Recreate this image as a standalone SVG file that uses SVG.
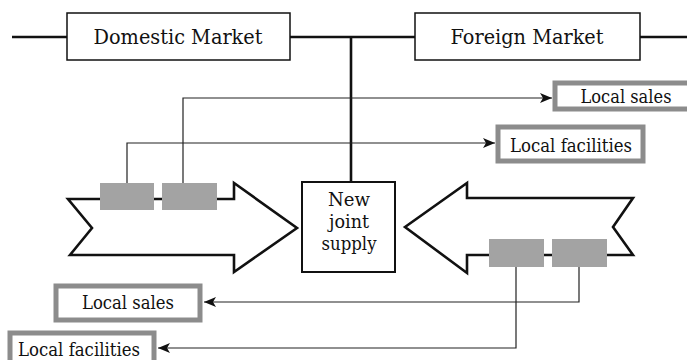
<svg xmlns="http://www.w3.org/2000/svg" width="687" height="360" viewBox="0 0 687 360">
<style>
text{font-family:"DejaVu Serif","Liberation Serif",serif;fill:#111;text-anchor:middle}
.mk{font-size:21px}
.lb{font-size:18px}
.nj{font-size:18px}
.box{fill:#fff;stroke:#111;stroke-width:1.5}
.lbox{fill:#fff;stroke:#8c8c8c;stroke-width:5}
.lin{fill:none;stroke:#111;stroke-width:2.6}
.thin{fill:none;stroke:#222;stroke-width:1.2}
.big{fill:#fff;stroke:#111;stroke-width:2.6;stroke-linejoin:miter}
.gray{fill:#a3a3a3}
</style>
<defs>
<marker id="ah" viewBox="0 0 12 10" refX="12" refY="5" markerWidth="12" markerHeight="10" markerUnits="userSpaceOnUse" orient="auto">
<path d="M0,0 L12,5 L0,10 L3,5 Z" fill="#111"/>
</marker>
</defs>
<g id="connectors">
<path class="lin" d="M12,37 H67 M290,37 H415 M640,37 H687 M351,37 V182"/>
<path class="thin" d="M183,183 V98 H552" marker-end="url(#ah)"/>
<path class="thin" d="M127,183 V143 H495" marker-end="url(#ah)"/>
<path class="thin" d="M579,267 V302 H204" marker-end="url(#ah)"/>
<path class="thin" d="M516,267 V348 H158" marker-end="url(#ah)"/>
</g>
<g id="domestic-market">
<rect class="box" x="67" y="13" width="223" height="47"/>
<text class="mk" x="178" y="44" textLength="169" lengthAdjust="spacingAndGlyphs">Domestic Market</text>
</g>
<g id="foreign-market">
<rect class="box" x="415" y="13" width="225" height="47"/>
<text class="mk" x="527" y="44" textLength="153" lengthAdjust="spacingAndGlyphs">Foreign Market</text>
</g>
<g id="left-arrow">
<polygon class="big" points="68,199 234,199 234,183 297,228 234,272 234,255 70,255 92,228"/>
<rect class="gray" x="100" y="183" width="54" height="27"/>
<rect class="gray" x="162" y="183" width="55" height="27"/>
</g>
<g id="right-arrow">
<polygon class="big" points="405,227 467,183 467,198 633,198 613,227 633,255 467,255 467,273"/>
<rect class="gray" x="489" y="239" width="55" height="28"/>
<rect class="gray" x="552" y="239" width="55" height="28"/>
</g>
<g id="new-joint-supply">
<rect x="302" y="182" width="93" height="90" fill="#fff" stroke="#111" stroke-width="2"/>
<text class="nj" x="349" y="206" textLength="42" lengthAdjust="spacingAndGlyphs">New</text>
<text class="nj" x="349" y="228" textLength="40" lengthAdjust="spacingAndGlyphs">joint</text>
<text class="nj" x="349" y="250" textLength="55" lengthAdjust="spacingAndGlyphs">supply</text>
</g>
<g id="local-sales-right">
<rect class="lbox" x="555" y="83" width="135" height="26"/>
<text class="lb" x="626" y="103" textLength="91" lengthAdjust="spacingAndGlyphs">Local sales</text>
</g>
<g id="local-facilities-right">
<rect class="lbox" x="498" y="127" width="145" height="34"/>
<text class="lb" x="571" y="152" textLength="122" lengthAdjust="spacingAndGlyphs">Local facilities</text>
</g>
<g id="local-sales-left">
<rect class="lbox" x="56" y="286" width="144" height="34"/>
<text class="lb" x="128" y="309" textLength="92" lengthAdjust="spacingAndGlyphs">Local sales</text>
</g>
<g id="local-facilities-left">
<rect class="lbox" x="10" y="333" width="144" height="32"/>
<text class="lb" x="79" y="356" textLength="122" lengthAdjust="spacingAndGlyphs">Local facilities</text>
</g>
</svg>
